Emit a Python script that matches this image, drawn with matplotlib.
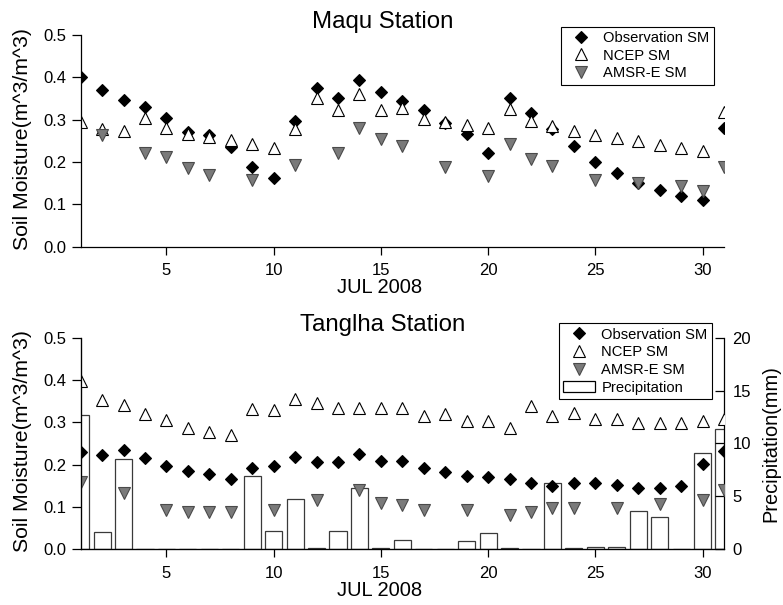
import numpy as np
import matplotlib
matplotlib.use("Agg")
import matplotlib.pyplot as plt
from matplotlib.lines import Line2D
from matplotlib.patches import Rectangle

plt.rcParams['font.family'] = ['Liberation Sans', 'DejaVu Sans']

nan = np.nan
days = np.arange(1, 32)

# Maqu station, soil moisture (m^3/m^3)
maqu_obs = [0.400, 0.370, 0.347, 0.331, 0.304, 0.270, 0.264, 0.235, 0.188, 0.162,
            0.298, 0.375, 0.351, 0.394, 0.366, 0.343, 0.322, 0.292, 0.265, 0.221,
            0.351, 0.316, 0.278, 0.239, 0.200, 0.174, 0.151, 0.135, 0.120, 0.110,
            0.280]
maqu_ncep = [0.294, 0.277, 0.273, 0.304, 0.281, 0.265, 0.260, 0.251, 0.242, 0.233,
             0.278, 0.351, 0.323, 0.361, 0.323, 0.327, 0.302, 0.294, 0.288, 0.281,
             0.325, 0.296, 0.285, 0.273, 0.264, 0.256, 0.249, 0.241, 0.234, 0.227,
             0.318]
maqu_amsr = [nan, 0.263, nan, 0.221, 0.212, 0.186, 0.169, nan, 0.157, nan,
             0.192, nan, 0.222, 0.280, 0.255, 0.239, nan, 0.188, nan, 0.166,
             0.242, 0.208, 0.190, nan, 0.157, nan, 0.151, nan, 0.143, 0.131,
             0.188]

# Tanglha station
tang_obs = [0.231, 0.224, 0.235, 0.215, 0.198, 0.185, 0.177, 0.166, 0.191, 0.197,
            0.217, 0.207, 0.207, 0.225, 0.209, 0.209, 0.193, 0.182, 0.174, 0.170,
            0.165, 0.157, 0.150, 0.157, 0.157, 0.152, 0.146, 0.146, 0.150, 0.202,
            0.233]
tang_ncep = [0.398, 0.353, 0.341, 0.320, 0.306, 0.287, 0.277, 0.269, 0.331, 0.329,
             0.354, 0.346, 0.333, 0.333, 0.333, 0.335, 0.315, 0.319, 0.302, 0.302,
             0.286, 0.339, 0.316, 0.323, 0.307, 0.307, 0.298, 0.298, 0.298, 0.302,
             0.307]
tang_amsr = [0.160, nan, 0.132, nan, 0.093, 0.089, 0.089, 0.089, nan, 0.093,
             nan, 0.117, nan, 0.139, 0.110, 0.105, 0.094, nan, 0.094, nan,
             0.080, 0.089, 0.097, 0.098, nan, 0.098, nan, 0.106, nan, 0.117,
             0.139]
tang_precip = [12.7, 1.6, 8.5, 0, 0, 0, 0, 0, 6.9, 1.7,
               4.8, 0.1, 1.7, 5.8, 0.1, 0.9, 0, 0, 0.8, 1.5,
               0.1, 0, 6.3, 0.1, 0.2, 0.2, 3.6, 3.1, 0, 9.1,
               11.4]

xticks = [5, 10, 15, 20, 25, 30]
sm_ticks = [0.0, 0.1, 0.2, 0.3, 0.4, 0.5]
pr_ticks = [0, 5, 10, 15, 20]

W, H = 783, 605
fig = plt.figure(figsize=(W / 100, H / 100), dpi=100)

L, R = 80.7, 724.0


def axrect(top, bottom):
    return [L / W, 1 - bottom / H, (R - L) / W, (bottom - top) / H]


obs_kw = dict(ls='none', marker='D', ms=6.5, mfc='black', mec='black', mew=0.8)
ncep_kw = dict(ls='none', marker='^', ms=8, mfc='white', mec='black', mew=0.8)
amsr_kw = dict(ls='none', marker='v', ms=8, mfc='#7a7a7a', mec='#4a4a4a', mew=0.8)


def style(ax, title):
    ax.set_xlim(1, 31)
    ax.set_ylim(0, 0.5)
    ax.set_xticks(xticks)
    ax.set_yticks(sm_ticks)
    ax.set_yticklabels(['%.1f' % v for v in sm_ticks])
    ax.tick_params(axis='x', direction='out', length=6, width=0.9, pad=6, labelsize=12)
    ax.tick_params(axis='y', direction='out', length=6.5, width=0.9, pad=4, labelsize=12)
    ax.spines['top'].set_visible(False)
    ax.spines['right'].set_visible(False)
    for s in ('left', 'bottom'):
        ax.spines[s].set_linewidth(0.9)
    ax.set_xlabel('JUL 2008', fontsize=14.5)
    ax.xaxis.set_label_coords(0.464, -0.148)
    ax.set_ylabel('Soil Moisture(m^3/m^3)', fontsize=15.3)
    ax.yaxis.set_label_coords(-0.075, 0.51)
    ax.text(0.469, 1.033, title, transform=ax.transAxes, ha='center',
            va='baseline', fontsize=17.3)


leg_kw = dict(loc='upper right', fontsize=10.6, frameon=True, fancybox=False,
              edgecolor='black', framealpha=1, borderpad=0.3, labelspacing=0.25,
              handlelength=2.2, handletextpad=0.4, borderaxespad=0)

# top panel
ax1 = fig.add_axes(axrect(35, 246.7))
ax1.plot(days, maqu_obs, label='Observation SM', **obs_kw)
ax1.plot(days, maqu_ncep, label='NCEP SM', **ncep_kw)
ax1.plot(days, maqu_amsr, label='AMSR-E SM', **amsr_kw)
style(ax1, 'Maqu Station')
leg1 = ax1.legend(bbox_to_anchor=(0.9845, 1.04), **leg_kw)
leg1.get_frame().set_linewidth(0.8)

# bottom panel
ax2 = fig.add_axes(axrect(337.7, 549.3))
ax3 = ax2.twinx()
ax3.bar(days, tang_precip, width=0.8, color='white', edgecolor='#3a3a3a', linewidth=0.9)
ax3.set_ylim(0, 20)
ax3.set_yticks(pr_ticks)
ax3.tick_params(axis='y', direction='in', length=6.5, width=0.9, pad=6, labelsize=12)
ax3.spines['top'].set_visible(False)
ax3.spines['right'].set_linewidth(0.9)
ax3.set_ylabel('Precipitation(mm)', fontsize=14.4)
ax3.yaxis.set_label_coords(1.0586, 0.5)

ax2.set_zorder(ax3.get_zorder() + 1)
ax2.patch.set_visible(False)
ax2.plot(days, tang_obs, **obs_kw)
ax2.plot(days, tang_ncep, **ncep_kw)
ax2.plot(days, tang_amsr, **amsr_kw)
style(ax2, 'Tanglha Station')

handles = [Line2D([], [], **obs_kw), Line2D([], [], **ncep_kw),
           Line2D([], [], **amsr_kw),
           Rectangle((0, 0), 1, 1, facecolor='white', edgecolor='black', linewidth=0.9)]
labels = ['Observation SM', 'NCEP SM', 'AMSR-E SM', 'Precipitation']
leg2 = ax2.legend(handles, labels, bbox_to_anchor=(0.9813, 1.069), **leg_kw)
leg2.get_frame().set_linewidth(0.8)

fig.savefig('out.png', dpi=100)
